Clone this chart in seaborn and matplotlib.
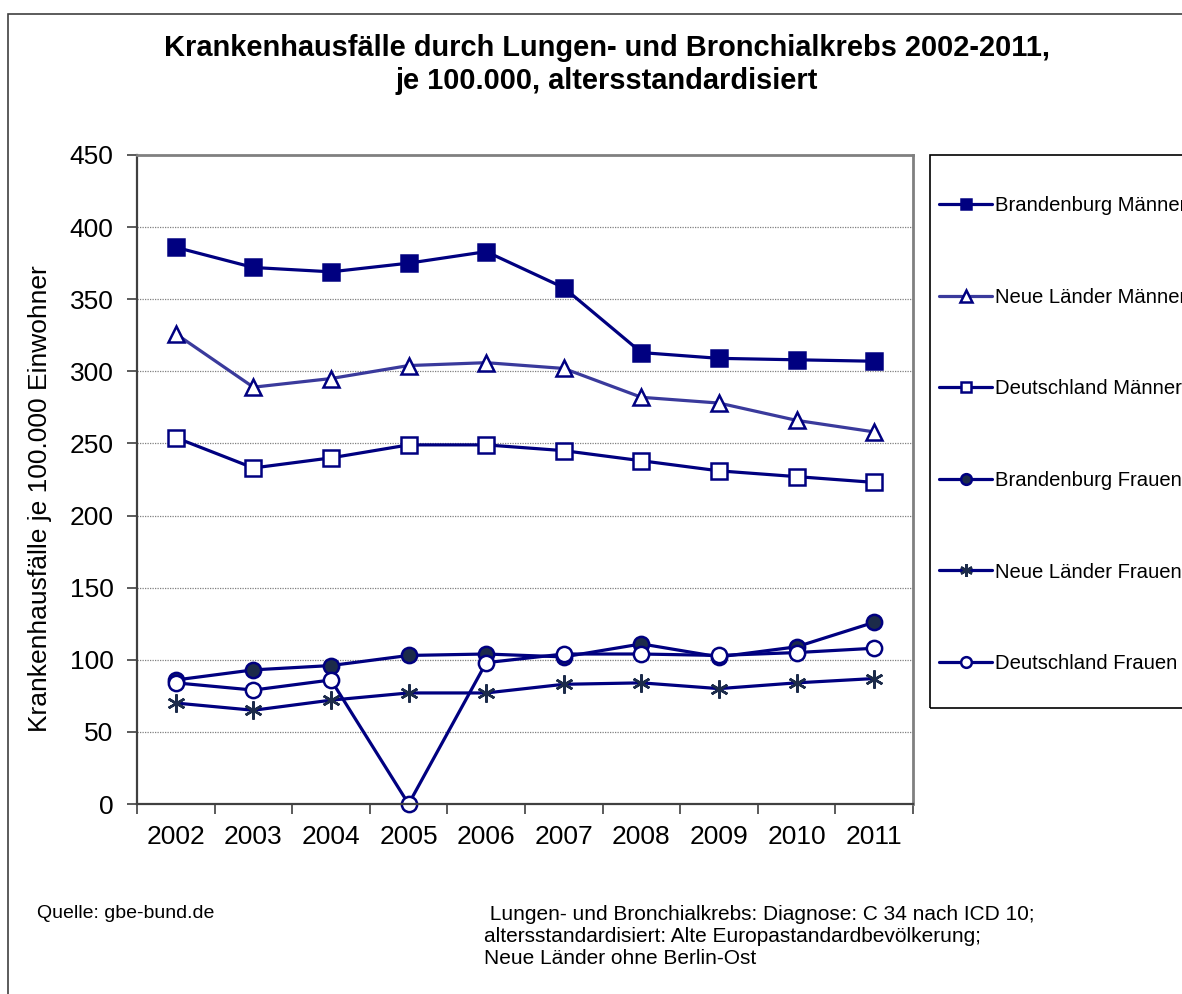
import numpy as np
import pandas as pd
import seaborn as sns
from matplotlib import pyplot as plt
from matplotlib.patches import Rectangle

sns.set_style("white")
plt.rcParams['font.family'] = ['Liberation Sans', 'DejaVu Sans']
plt.rcParams['text.color'] = 'black'
plt.rcParams['xtick.labelcolor'] = 'black'
plt.rcParams['ytick.labelcolor'] = 'black'

# ---------------- data
years = ["2002", "2003", "2004", "2005", "2006", "2007", "2008", "2009", "2010", "2011"]
bb_maenner = [386, 372, 369, 375, 383, 358, 313, 309, 308, 307]
nl_maenner = [326, 289, 295, 304, 306, 302, 282, 278, 266, 258]
de_maenner = [254, 233, 240, 249, 249, 245, 238, 231, 227, 223]
bb_frauen = [86, 93, 96, 103, 104, 102, 111, 102, 109, 126]
nl_frauen = [70, 65, 72, 77, 77, 83, 84, 80, 84, 87]
de_frauen = [84, 79, 86, 0, 98, 104, 104, 103, 105, 108]
labels = ["Brandenburg Männer", "Neue Länder Männer", "Deutschland Männer",
          "Brandenburg Frauen", "Neue Länder Frauen", "Deutschland Frauen"]

navy = "#000080"
dark = "#1c2b4a"
styles = [
    dict(color=navy, marker="s", markerfacecolor=navy, markeredgecolor=navy, markersize=11),
    dict(color="#3a3a9c", marker="^", markerfacecolor="white", markeredgecolor=navy, markersize=12),
    dict(color=navy, marker="s", markerfacecolor="white", markeredgecolor=navy, markersize=11),
    dict(color=navy, marker="o", markerfacecolor=dark, markeredgecolor=navy, markersize=11),
    dict(color=navy, marker=(6, 2, 0), markerfacecolor=dark, markeredgecolor=dark, markersize=13),
    dict(color=navy, marker="o", markerfacecolor="white", markeredgecolor=navy, markersize=11),
]

df = pd.DataFrame({"x": np.arange(len(years))})
series = [bb_maenner, nl_maenner, de_maenner, bb_frauen, nl_frauen, de_frauen]

fh = plt.figure(figsize=(11.82, 9.94), dpi=100)
ah = fh.add_axes([137/1182, 1-804/994, (913-137)/1182, (804-155)/994])

for vals, lab, st in zip(series, labels, styles):
    sns.lineplot(x=df["x"], y=vals, ax=ah, lw=2.3, markeredgewidth=1.8,
                 legend=False, clip_on=False, **st)

ah.set_xlim(-0.5, len(years)-0.5)
ah.set_ylim(0, 450)
ah.set_yticks(np.arange(0, 451, 50))
ah.set_xticks(np.arange(len(years)))
ah.set_xticklabels(years)
ah.set_xticks(np.arange(len(years)+1)-0.5, minor=True)
ah.set_xlabel("")
ah.set_ylabel("")
for y in range(50, 450, 50):
    ah.axhline(y, color="#808080", lw=0.9, ls=(0, (1, 1)), zorder=0)

ah.tick_params(axis="y", which="major", length=7, width=1.2, direction="out",
               color="#404040", labelsize=19, pad=10, left=True)
ah.tick_params(axis="x", which="major", length=0, labelsize=19, pad=15, bottom=True)
ah.tick_params(axis="x", which="minor", length=7, width=1.2, direction="out",
               color="#404040", bottom=True)
for s in ["top", "right"]:
    ah.spines[s].set_color("#808080")
    ah.spines[s].set_linewidth(2)
for s in ["left", "bottom"]:
    ah.spines[s].set_color("#404040")
    ah.spines[s].set_linewidth(1.6)

# titles and notes
fh.text(607/1182, 1-48/994, "Krankenhausfälle durch Lungen- und Bronchialkrebs 2002-2011,",
        ha="center", va="center", fontsize=20.9, fontweight="bold")
fh.text(607/1182, 1-81/994, "je 100.000, altersstandardisiert",
        ha="center", va="center", fontsize=20.9, fontweight="bold")
fh.text(40/1182, 1-499/994, "Krankenhausfälle je 100.000 Einwohner", rotation=90,
        ha="center", va="center", fontsize=19)
fh.text(37/1182, 1-913/994, "Quelle: gbe-bund.de", ha="left", va="center", fontsize=14)
fh.text(484/1182, 1-936/994,
        " Lungen- und Bronchialkrebs: Diagnose: C 34 nach ICD 10;\n"
        "altersstandardisiert: Alte Europastandardbevölkerung;\n"
        "Neue Länder ohne Berlin-Ost",
        ha="left", va="center", fontsize=15, linespacing=1.2)

# legend with its own frame
fh.patches.append(Rectangle((930/1182, 1-708/994), 0.3, 553/994, transform=fh.transFigure,
                            fill=False, ec="black", lw=1.2))
fh.patches.append(Rectangle((8/1182, -0.05), 1.2, 1.05-14/994, transform=fh.transFigure,
                            fill=False, ec="#404040", lw=1.2))
leg = fh.legend(ah.get_lines()[:6], labels, loc="upper left",
                bbox_to_anchor=(929/1182, 1-186/994), frameon=False, borderpad=0,
                handlelength=2.6, handletextpad=0.15, labelspacing=3.58, fontsize=14.6,
                markerscale=0.7)

fh.savefig("out.png", dpi=100)
